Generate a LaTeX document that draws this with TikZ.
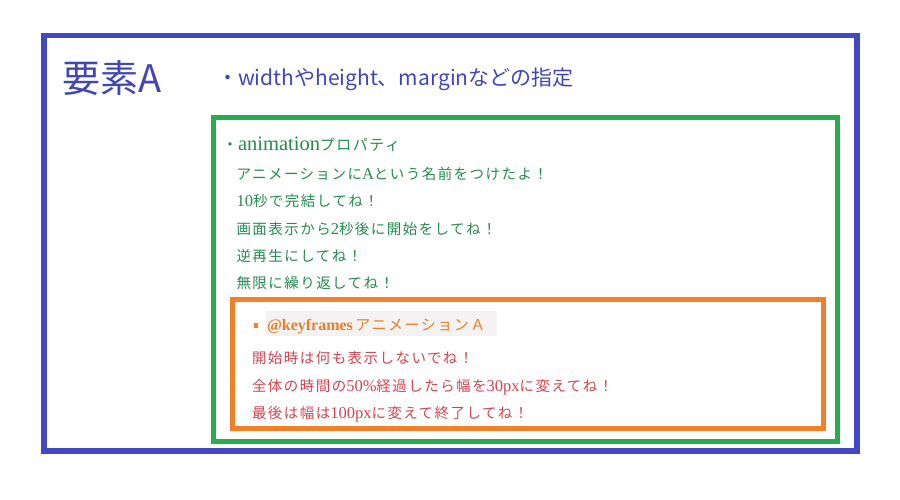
\documentclass[tikz,border=0pt]{standalone}
\usepackage{fontspec}
\setmainfont{Liberation Serif}
\newfontfamily\jp{Noto Sans CJK JP}
\newfontfamily\jpl[LetterSpace=10]{Noto Sans CJK JP}
\newcommand\lat[1]{{\fontsize{16.5}{18}\selectfont #1}}
\definecolor{boxblue}{RGB}{66,72,196}
\definecolor{boxgreen}{RGB}{40,172,78}
\definecolor{boxorange}{RGB}{242,128,40}
\definecolor{txtblue}{RGB}{66,70,178}
\definecolor{txtgreen}{RGB}{38,138,78}
\definecolor{txtorange}{RGB}{232,128,40}
\definecolor{txtred}{RGB}{208,68,82}
\definecolor{hdrgrey}{RGB}{244,242,242}
\tikzset{
  txt/.style={anchor=base west, inner sep=0pt, outer sep=0pt},
  gline/.style={txt, text=txtgreen, font=\fontsize{14.5}{16}\selectfont},
  rline/.style={txt, text=txtred, font=\fontsize{14.5}{16}\selectfont},
}
\begin{document}
\begin{tikzpicture}[x=1pt,y=-1pt]
\useasboundingbox (0,0) rectangle (900,500);
% boxes
\draw[boxblue, line width=5.5pt] (44,35.5) rectangle (857,451);
\draw[boxgreen, line width=5pt] (213.5,118) rectangle (837,441);
\draw[boxorange, line width=5pt] (232.5,299) rectangle (823,428);
% element title
\node[txt, text=txtblue, font=\fontsize{38}{42}\selectfont\jp] (title) at (62,93) {要素A};
\node[txt, text=txtblue, font=\fontsize{21}{24}\selectfont\jp] (spec) at (217,86) {・widthやheight、marginなどの指定};
% animation property
\node[txt, text=txtgreen] (anim) at (222,150) {{\fontsize{16}{18}\selectfont\jpl ・}{\fontsize{20.5}{22}\selectfont animation}{\fontsize{15}{18}\selectfont\jpl プロパティ}};
\node[gline] (g1) at (236.5,179.5) {{\jpl アニメーションに}\lat{A}{\jpl という名前をつけたよ！}};
\node[gline] (g2) at (236.5,207) {\lat{10}{\jpl 秒で完結してね！}};
\node[gline] (g3) at (236.5,234.5) {{\jpl 画面表示から}\lat{2}{\jpl 秒後に開始をしてね！}};
\node[gline] (g4) at (236.5,261.5) {{\jpl 逆再生にしてね！}};
\node[gline] (g5) at (236.5,288.5) {{\jpl 無限に繰り返してね！}};
% keyframes
\fill[hdrgrey] (266,311) rectangle (497,336);
\fill[boxorange] (254,323) rectangle (258,327.5);
\node[txt, text=txtorange] (kf) at (267,330) {{\fontsize{16}{18}\selectfont\bfseries @keyframes} {\fontsize{15}{18}\selectfont\jpl アニメーションＡ}};
\node[rline] (r1) at (252,363.5) {{\jpl 開始時は何も表示しないでね！}};
\node[rline] (r2) at (252,391.5) {{\jpl 全体の時間の}\lat{50\%}{\jpl 経過したら幅を}\lat{30px}{\jpl に変えてね！}};
\node[rline] (r3) at (252,418) {{\jpl 最後は幅は}\lat{100px}{\jpl に変えて終了してね！}};
\end{tikzpicture}
\end{document}
